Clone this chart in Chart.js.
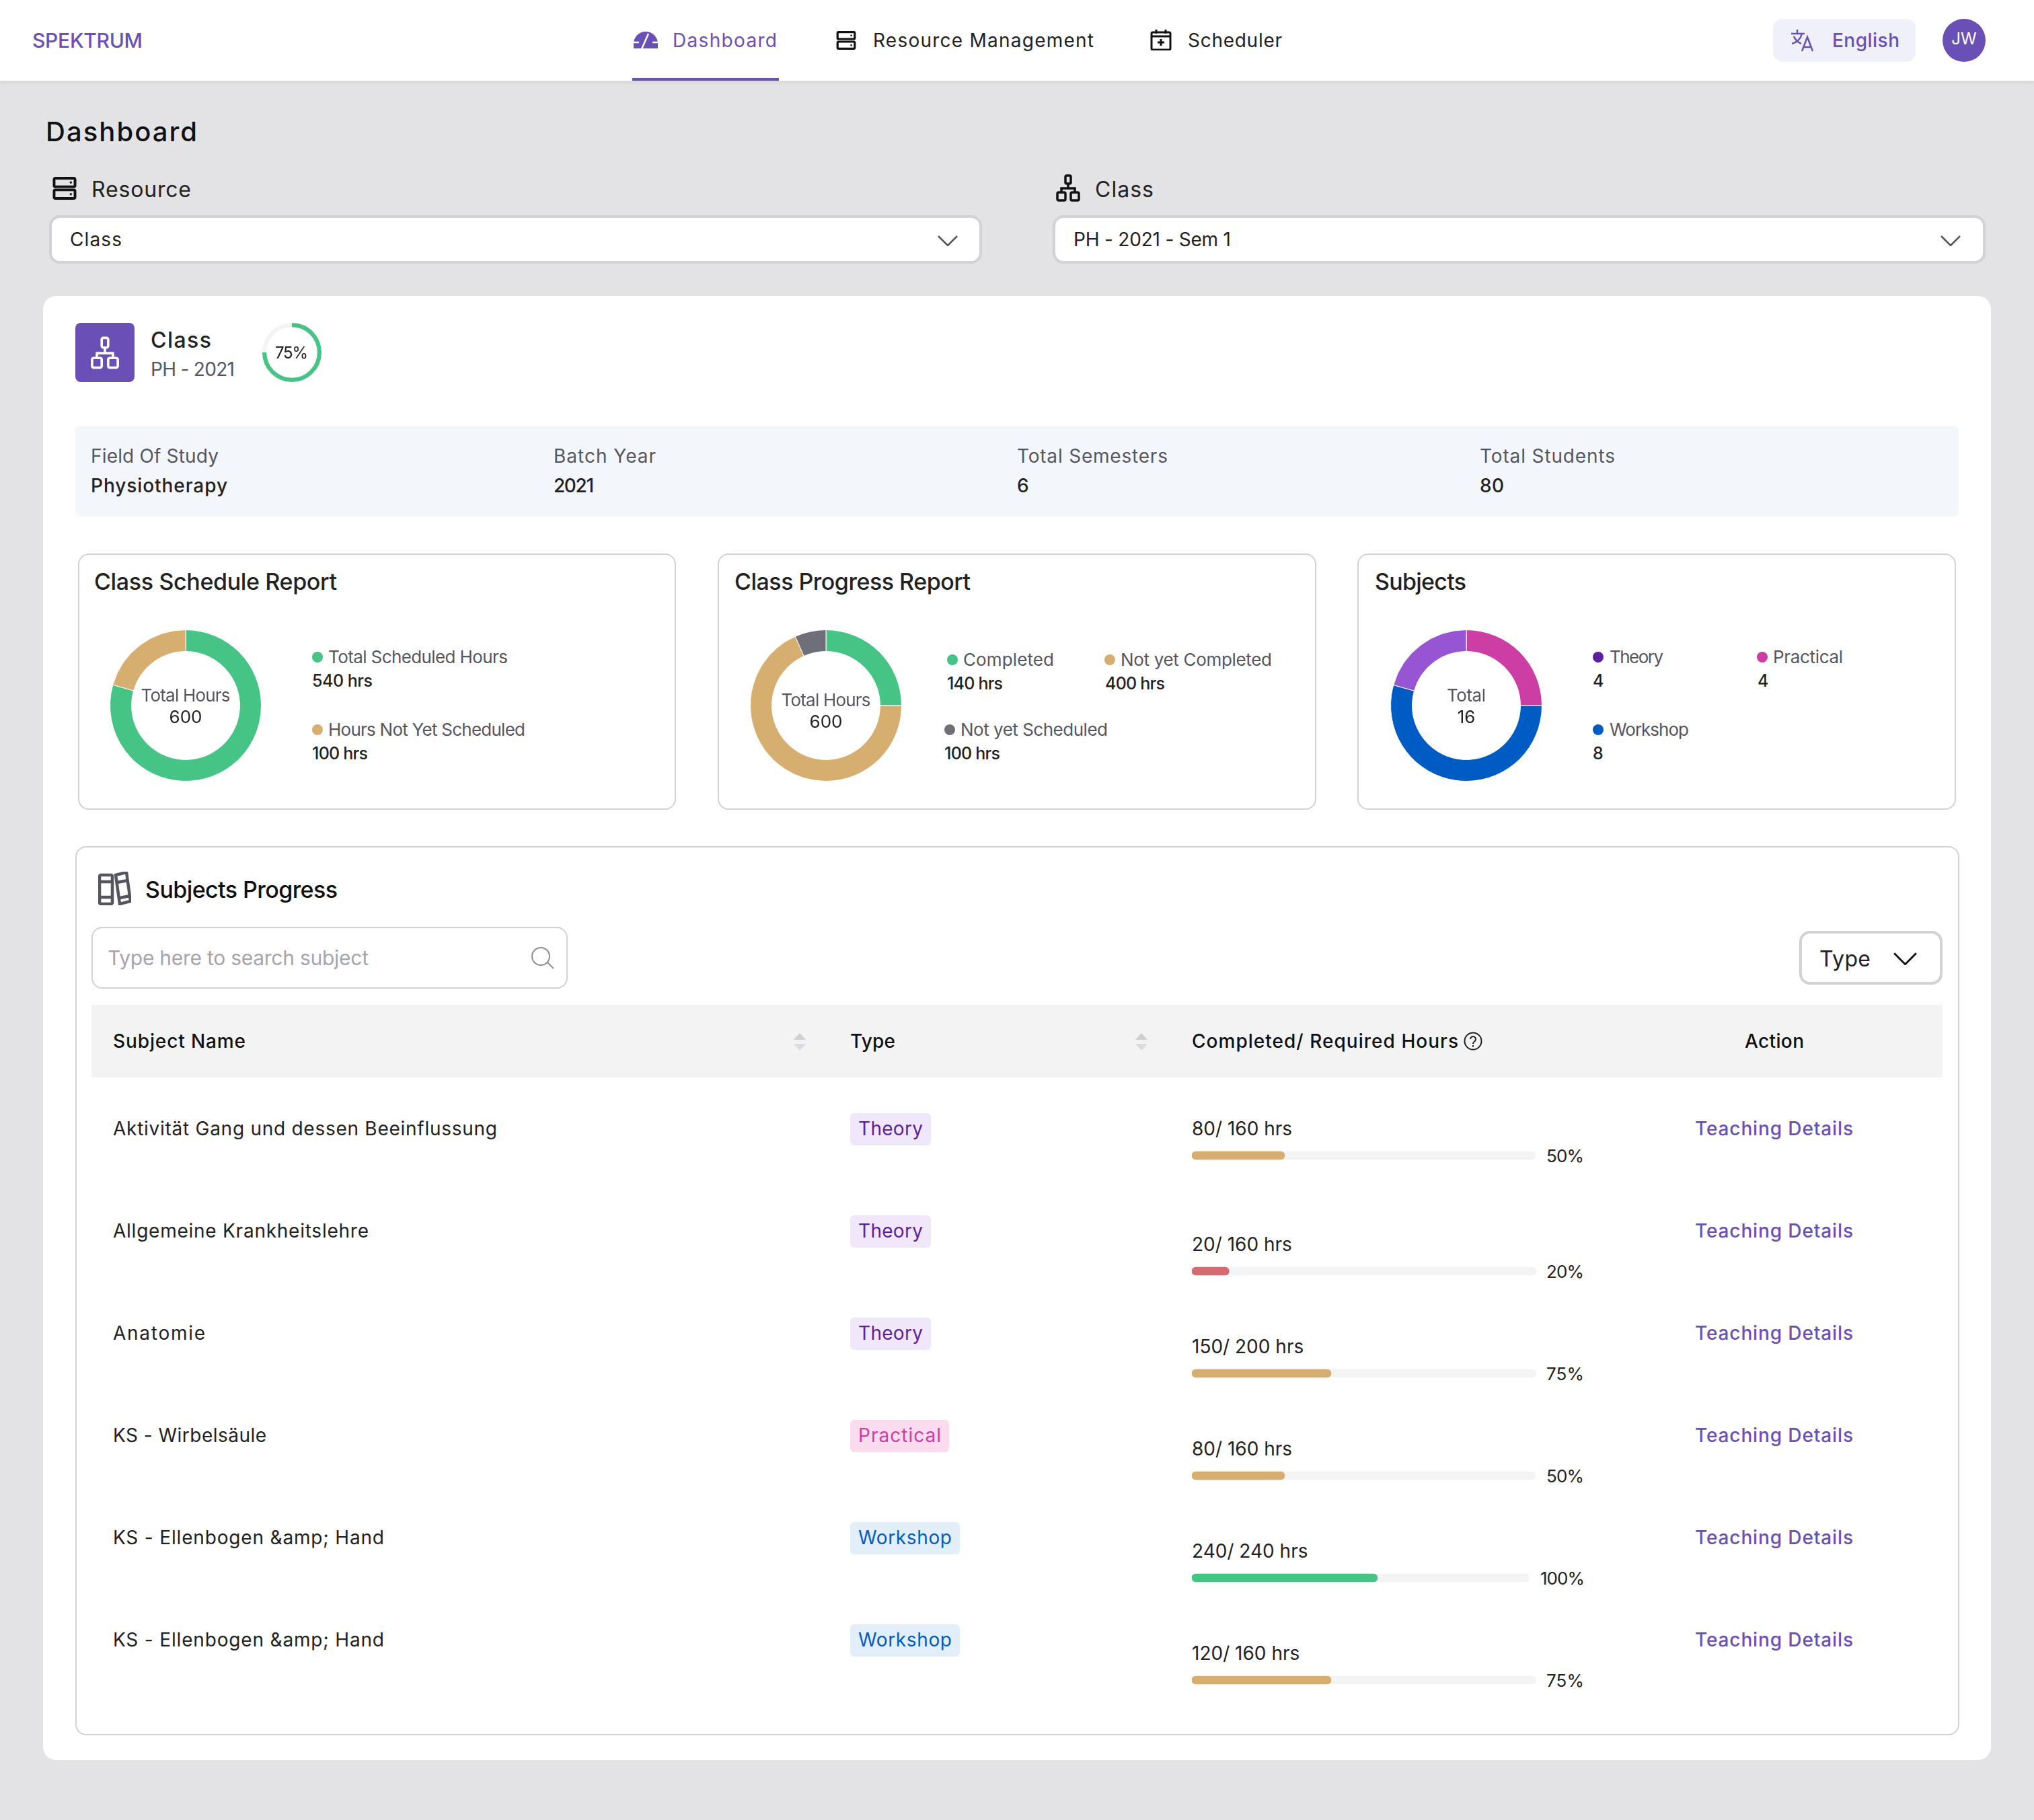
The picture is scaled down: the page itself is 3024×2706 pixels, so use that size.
<!DOCTYPE html>
<html lang="en">
<head>
<meta charset="UTF-8">
<title>Dashboard</title>
<script src="https://cdn.jsdelivr.net/npm/chart.js"></script>
<style>
  html, body { margin: 0; padding: 0; }
  body { position: relative; width: 3024px; height: 2706px; overflow: hidden; background: #e3e3e6; font-family: Inter, "Noto Sans", sans-serif; color: #222; }
  .box, .t, canvas, svg { position: absolute; display: block; box-sizing: border-box; }
  .t { white-space: nowrap; transform: translateY(-50%); line-height: 1.2; font-size: 28px; }
  .med { font-weight: 500; }
  .grey { color: #56565f; }
  .purple { color: #6a4fb6; }
  .border { background: #fff; border: 2.5px solid #d1d1d6; border-radius: 16px; }
  .dot { border-radius: 50%; width: 16px; height: 16px; }
</style>
</head>
<body>
<script>
  // slice values are read off the arcs, they do not follow the printed numbers
  const scheduleLabels = ['Total Scheduled Hours', 'Hours Not Yet Scheduled'];
  const scheduleText = ['540 hrs', '100 hrs'];
  const scheduleSlices = [540, 140];
  const progressLabels = ['Completed', 'Not yet Completed', 'Not yet Scheduled'];
  const progressText = ['140 hrs', '400 hrs', '100 hrs'];
  const progressSlices = [150, 410, 40];
  const subjectLabels = ['Theory', 'Practical', 'Workshop'];
  const subjectText = ['4', '4', '8'];
  const subjectSlices = [4, 8.7, 3.3];
  const classProgress = [75, 25];

  const subjectNames = ['Aktivität Gang und dessen Beeinflussung', 'Allgemeine Krankheitslehre', 'Anatomie', 'KS - Wirbelsäule', 'KS - Ellenbogen &amp; Hand', 'KS - Ellenbogen &amp; Hand'];
  const subjectTypes = ['Theory', 'Theory', 'Theory', 'Practical', 'Workshop', 'Workshop'];
  const completedHours = [80, 20, 150, 80, 240, 120];
  const requiredHours = [160, 160, 200, 160, 240, 160];
  const percents = [50, 20, 75, 50, 100, 75];

  const GREEN = '#45c486', TAN = '#d6ae6f', RED = '#d66a70', GREY = '#6f6f7a';
  const PURPLE = '#6a4fb6';
  const typeStyles = {
    Theory: ['#f0e8fa', '#5f1f9f'],
    Practical: ['#fbdcef', '#cc3ea3'],
    Workshop: ['#e3eefb', '#005cc5']
  };

  function box(x, y, w, h, style, cls) {
    const el = document.createElement('div');
    el.className = 'box ' + (cls || '');
    el.style.cssText = `left:${x}px;top:${y}px;width:${w}px;height:${h}px;${style || ''}`;
    document.body.appendChild(el);
    return el;
  }

  // text placed by its vertical centre, fitW stretches it to the measured width
  function txt(x, cy, str, size, cls, fitW, style) {
    const el = document.createElement('div');
    const nudge = size === 28 ? 2 : size === 32 ? 1 : 0;
    el.className = 't ' + (cls || '');
    el.textContent = str;
    el.style.cssText = `left:${x}px;top:${cy + nudge}px;font-size:${size}px;${style || ''}`;
    document.body.appendChild(el);
    if (fitW && str.length > 1) {
      const w = el.getBoundingClientRect().width;
      el.style.letterSpacing = ((fitW - w) / (str.length - 1)) + 'px';
    }
    return el;
  }

  function icon(x, y, w, h, vb, body) {
    const holder = document.createElement('div');
    holder.innerHTML = `<svg style="left:${x}px;top:${y}px" width="${w}" height="${h}" viewBox="${vb}" fill="none">${body}</svg>`;
    document.body.appendChild(holder.firstChild);
  }

  const serverIcon = (c) => `<g stroke="${c}" stroke-width="4"><rect x="2" y="2" width="32" height="13" rx="2"/><rect x="2" y="20" width="32" height="13" rx="2"/></g><rect x="26" y="7" width="3" height="3" fill="${c}"/><rect x="26" y="25" width="3" height="3" fill="${c}"/>`;
  const treeIcon = (c, sw) => `<g stroke="${c}" stroke-width="${sw}"><rect x="14" y="2" width="8" height="12" rx="2"/><rect x="2" y="27" width="12" height="12" rx="2"/><rect x="22" y="27" width="12" height="12" rx="2"/><path d="M18 14v7M8 27v-6h20v6"/></g>`;
  const chevron = (c) => `<path d="M1 1l14 14L29 1" stroke="${c}" stroke-width="2.5"/>`;

  function makeCanvas(x, y, w, h) {
    const c = document.createElement('canvas');
    c.width = w; c.height = h;
    c.style.cssText = `left:${x}px;top:${y}px;width:${w}px;height:${h}px`;
    document.body.appendChild(c);
    return c;
  }

  function donut(cx, cy, size, values, colors, cutout, seam) {
    return new Chart(makeCanvas(cx - size / 2, cy - size / 2, size, size), {
      type: 'doughnut',
      data: { datasets: [{ data: values, backgroundColor: colors, borderWidth: seam, borderColor: '#fff' }] },
      options: {
        responsive: false, animation: false, devicePixelRatio: 1, cutout: cutout,
        plugins: { legend: { display: false }, tooltip: { enabled: false } }
      }
    });
  }

  // one horizontal bar per row, the canvas width is the grey track
  const PX_PER_PERCENT = 2.76;
  function progressBar(x, cy, trackW, percent, color) {
    const max = trackW / PX_PER_PERCENT;
    return new Chart(makeCanvas(x, cy - 8, trackW, 16), {
      type: 'bar',
      data: {
        labels: [''],
        datasets: [
          { data: [percent], backgroundColor: color, grouped: false, barThickness: 12, borderRadius: 6, borderSkipped: false },
          { data: [max], backgroundColor: '#f4f4f4', grouped: false, barThickness: 12, borderRadius: 6, borderSkipped: false }
        ]
      },
      options: {
        indexAxis: 'y', responsive: false, animation: false, devicePixelRatio: 1,
        scales: { x: { display: false, min: 0, max: max }, y: { display: false } },
        plugins: { legend: { display: false }, tooltip: { enabled: false } }
      }
    });
  }

  // nav bar
  box(0, 0, 3024, 120, 'background:#fff;box-shadow:0 2px 6px rgba(0,0,0,.08)');
  txt(48, 60, 'SPEKTRUM', 30, 'med purple', 164);
  box(940, 116, 218, 4, 'background:' + PURPLE);
  icon(942, 47, 36, 25, '0 0 36 25', `<path d="M18 0A18 18 0 0 0 0 18v7h36v-7A18 18 0 0 0 18 0z" fill="${PURPLE}"/><path d="M0 16h8M28 16h8M12 26L22 3" stroke="#fff" stroke-width="2.5"/>`);
  txt(1000, 59, 'Dashboard', 28, 'purple', 155);
  icon(1243, 46, 30, 28, '0 0 36 35', serverIcon('#111'));
  txt(1298, 59, 'Resource Management', 28, '', 328);
  icon(1710, 43, 32, 32, '0 0 32 32', `<g stroke="#111" stroke-width="3"><rect x="2" y="5" width="28" height="26" rx="2"/><path d="M2 11h28M9 1v6M23 1v6M16 15v10M11 20h10"/></g>`);
  txt(1766, 59, 'Scheduler', 28, '', 140);
  box(2636, 28, 212, 64, 'background:#f0f0fa;border-radius:14px');
  icon(2662, 43, 37, 34, '0 0 37 34', `<g stroke="${PURPLE}" stroke-width="2.5"><path d="M1 7h20M10 1v6M17 7c-2 8-8 13-15 15M5 11c2 5 6 9 11 11M17 33l8-21 8 21M20 27h11"/></g>`);
  txt(2724, 59, 'English', 28, 'purple med', 100);
  box(2888, 28, 64, 64, 'background:' + PURPLE + ';border-radius:50%');
  txt(2920, 58, 'JW', 24, '', 0, 'color:#fff;transform:translate(-50%,-50%)');

  // filters
  txt(68, 196, 'Dashboard', 40, 'med', 225, 'color:#111');
  icon(78, 263, 36, 34, '0 0 36 35', serverIcon('#111'));
  txt(136, 281, 'Resource', 32, '', 148);
  box(73, 320, 1387, 72, 'background:#fff;border:4px solid #d1d1d6;border-radius:16px');
  txt(104, 355, 'Class', 28, '', 77);
  icon(1394, 350, 30, 16, '0 0 30 16', chevron('#555'));
  icon(1570, 259, 36, 41, '0 0 36 41', treeIcon('#111', 3.5));
  txt(1628, 281, 'Class', 32, '', 87);
  box(1565, 320, 1387, 72, 'background:#fff;border:4px solid #d1d1d6;border-radius:16px');
  txt(1596, 355, 'PH - 2021 - Sem 1', 28, '', 234);
  icon(2885, 350, 30, 16, '0 0 30 16', chevron('#555'));

  // main card and class header
  box(64, 440, 2896, 2177, 'background:#fff;border-radius:20px');
  box(112, 480, 88, 88, 'background:' + PURPLE + ';border-radius:8px');
  icon(134, 500, 44, 49, '0 0 36 41', treeIcon('#fff', 3));
  txt(224, 505, 'Class', 32, 'med', 90);
  txt(224, 548, 'PH - 2021', 28, 'grey', 125);
  donut(434, 524, 88, classProgress, [GREEN, '#f4f4f4'], '86%', 0);
  txt(409, 525, '75%', 24, '', 49);

  // info band
  box(112, 633, 2800, 135, 'background:#f3f7fb;border-radius:8px');
  const infoLabels = ['Field Of Study', 'Batch Year', 'Total Semesters', 'Total Students'];
  const infoValues = ['Physiotherapy', '2021', '6', '80'];
  const infoX = [135, 823, 1512, 2200];
  const infoW = [190, 152, 224, 201];
  const infoValueW = [203, 60, 0, 36];
  infoLabels.forEach((label, i) => {
    txt(infoX[i], 677, label, 28, 'grey', infoW[i]);
    txt(infoX[i], 721, infoValues[i], 28, 'med', infoValueW[i]);
  });

  // report cards
  box(116, 823, 889, 381, '', 'border');
  txt(140, 865, 'Class Schedule Report', 34, 'med', 361);
  box(1067, 823, 890, 381, '', 'border');
  txt(1092, 865, 'Class Progress Report', 34, 'med', 351);
  box(2018, 823, 890, 381, '', 'border');
  txt(2044, 865, 'Subjects', 34, 'med', 136);

  donut(276, 1049, 226, scheduleSlices, [GREEN, TAN], '71.5%', 1);
  donut(1228, 1049, 226, progressSlices, [GREEN, TAN, GREY], '71.5%', 1);
  donut(2180, 1049, 226, subjectSlices, ['#cc3ea3', '#005cc5', '#9656d3'], '71.5%', 1);

  function centreText(cx, cy1, cy2, top, bottom, topW) {
    txt(cx - topW / 2, cy1, top, 26, 'grey', topW);
    txt(cx, cy2, bottom, 26, '', 0, 'transform:translate(-50%,-50%)');
  }
  centreText(276, 1034, 1066, 'Total Hours', '600', 133);
  centreText(1228, 1041, 1073, 'Total Hours', '600', 133);
  centreText(2180, 1034, 1066, 'Total', '16', 58);

  function legendItem(dotX, textX, valueX, cy, color, label, value, labelW, valueW) {
    box(dotX - 8, cy - 8, 16, 16, 'background:' + color, 'dot');
    txt(textX, cy, label, 26, 'grey', labelW);
    txt(valueX, cy + 35, value, 25, 'med', valueW);
  }
  legendItem(472, 488, 464, 977, GREEN, scheduleLabels[0], scheduleText[0], 267, 90);
  legendItem(472, 488, 464, 1085, TAN, scheduleLabels[1], scheduleText[1], 293, 83);
  legendItem(1416, 1432, 1408, 981, GREEN, progressLabels[0], progressText[0], 135, 83);
  legendItem(1650, 1666, 1643, 981, TAN, progressLabels[1], progressText[1], 225, 89);
  legendItem(1412, 1428, 1404, 1085, GREY, progressLabels[2], progressText[2], 219, 83);
  legendItem(2376, 2393, 2368, 977, '#5f1f9f', subjectLabels[0], subjectText[0], 80);
  legendItem(2620, 2636, 2613, 977, '#cc3ea3', subjectLabels[1], subjectText[1], 104);
  legendItem(2376, 2393, 2368, 1085, '#005cc5', subjectLabels[2], subjectText[2], 118);

  // subjects progress card
  box(112, 1258, 2801, 1322, '', 'border');
  icon(146, 1296, 49, 50, '0 0 49 50', `<g stroke="#55555f" stroke-width="4.5"><rect x="2" y="5" width="19" height="43" rx="2"/><path d="M2 15h19M2 38h19"/><path d="M26 5l16-4 6 43-16 4z"/><path d="M28 16l16-3M32 39l15-3"/></g>`);
  txt(216, 1323, 'Subjects Progress', 34, 'med', 286, 'color:#111');
  box(136, 1378, 708, 92, '', 'border');
  txt(160, 1424, 'Type here to search subject', 30, '', 388, 'color:#a5a5ad');
  icon(789, 1408, 35, 33, '0 0 35 33', `<g stroke="#8d8d96" stroke-width="2"><circle cx="15" cy="14" r="13"/><path d="M25 23l9 9"/></g>`);
  box(2675, 1384, 213, 80, 'background:#fff;border:4px solid #d1d1d6;border-radius:16px');
  txt(2705, 1425, 'Type', 32, '', 76);
  icon(2815, 1416, 35, 19, '0 0 30 16', chevron('#111'));

  // table header
  box(136, 1494, 2752, 108, 'background:#f3f3f4');
  txt(168, 1547, 'Subject Name', 28, 'med', 197, 'color:#111');
  txt(1264, 1547, 'Type', 28, 'med', 67, 'color:#111');
  txt(1772, 1547, 'Completed/ Required Hours', 28, 'med', 396, 'color:#111');
  txt(2594, 1547, 'Action', 28, 'med', 88, 'color:#111');
  icon(2176, 1534, 28, 28, '0 0 28 28', `<circle cx="14" cy="14" r="12.5" stroke="#222" stroke-width="2"/><path d="M10 11a4 4 0 1 1 6 3.5c-1.5 1-2 1.5-2 3.5M14 20v2.5" stroke="#222" stroke-width="2"/>`);
  [1189, 1697].forEach((cx) => {
    icon(cx - 9, 1536, 18, 26, '0 0 18 26', `<path d="M9 0l9 10H0z" fill="#cfcfd4"/><path d="M0 16h18l-9 10z" fill="#dcdce0"/>`);
  });

  // table rows
  const rowY = [1677, 1829, 1981, 2133, 2285, 2437];
  const hoursY = [1677, 1849, 2001, 2153, 2305, 2457];
  const barY = [1718, 1890, 2042, 2194, 2346, 2498];
  const trackW = [511, 512, 512, 511, 502, 512];
  const nameW = [571, 380, 137, 228, 403, 403];
  const chipW = [120, 120, 120, 147, 163, 163];
  subjectNames.forEach((name, i) => {
    const type = typeStyles[subjectTypes[i]];
    const pct = percents[i];
    const color = pct === 100 ? GREEN : pct <= 20 ? RED : TAN;
    txt(168, rowY[i], name, 28, '', nameW[i]);
    box(1264, rowY[i] - 22, chipW[i], 48, `background:${type[0]};border-radius:6px`);
    txt(1276, rowY[i], subjectTypes[i], 28, '', chipW[i] - 24, 'color:' + type[1]);
    txt(1772, hoursY[i], `${completedHours[i]}/ ${requiredHours[i]} hrs`, 28);
    progressBar(1772, barY[i], trackW[i], pct, color);
    txt(pct === 100 ? 2290 : 2299, barY[i] + 1, pct + '%', 26, '', pct === 100 ? 66 : 56);
    txt(2520, rowY[i], 'Teaching Details', 28, 'med purple', 235);
  });
</script>
</body>
</html>
